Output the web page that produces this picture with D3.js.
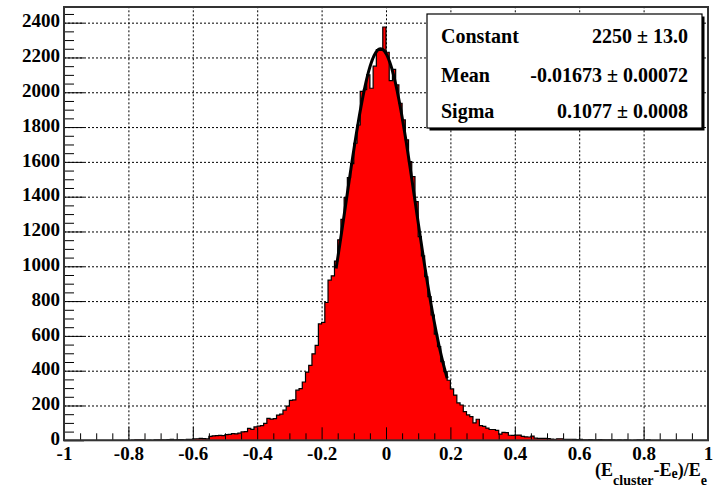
<!DOCTYPE html>
<html>
<head>
<meta charset="utf-8">
<title>Cluster energy resolution</title>
<style>
  body { margin: 0; background: #fff; }
  svg text { font-family: "Liberation Serif", "Times New Roman", serif; font-weight: bold; fill: #000; }
  .axis path { display: none; }
  .axis line { stroke: #000; stroke-width: 1; }
  .grid path { display: none; }
  .grid line { stroke: #000; stroke-width: 1; stroke-dasharray: 2,2; }
</style>
</head>
<body>
<div id="chart"></div>
<script src="https://d3js.org/d3.v7.min.js"></script>
<script>

// histogram: 200 bins from -1 to 1
var binLow = -1, binHigh = 1;
var binCounts = [
  0, 0, 0, 0, 0, 0, 0, 0, 0, 0,
  0, 0, 0, 0, 0, 0, 0, 0, 0, 0,
  0, 1, 3, 3, 2, 0, 1, 0, 2, 3,
  3, 2, 4, 5, 3, 4, 4, 3, 5, 6,
  8, 9, 11, 10, 8, 22, 26, 27, 28, 27,
  33, 34, 38, 37, 41, 48, 50, 68, 63, 77,
  81, 84, 97, 126, 122, 124, 145, 150, 173, 196,
  230, 232, 288, 297, 335, 392, 430, 497, 545, 669,
  678, 792, 920, 945, 1030, 1152, 1270, 1395, 1510, 1590,
  1707, 1812, 2005, 2015, 2100, 2023, 2150, 2245, 2240, 2375,
  2230, 2067, 2132, 2042, 1937, 1841, 1726, 1601, 1515, 1372,
  1170, 1060, 940, 826, 720, 610, 538, 452, 395, 345,
  295, 260, 215, 203, 165, 146, 136, 100, 121, 84,
  80, 70, 62, 62, 57, 36, 45, 44, 29, 28,
  30, 30, 22, 20, 19, 24, 12, 11, 11, 11,
  10, 7, 6, 9, 9, 5, 5, 6, 5, 4,
  5, 3, 3, 4, 2, 3, 4, 3, 2, 3,
  2, 1, 2, 1, 2, 1, 0, 1, 2, 1,
  0, 2, 0, 0, 0, 0, 0, 0, 0, 0,
  0, 0, 0, 0, 0, 0, 0, 0, 0, 0
];

var xTicks = [-1, -0.8, -0.6, -0.4, -0.2, 0, 0.2, 0.4, 0.6, 0.8, 1];
var xTickLabels = ["-1", "-0.8", "-0.6", "-0.4", "-0.2", "0", "0.2", "0.4", "0.6", "0.8", "1"];
var yTicks = [0, 200, 400, 600, 800, 1000, 1200, 1400, 1600, 1800, 2000, 2200, 2400];
var yMax = 2490;

// gaussian fit
var fitConstant = 2250, fitMean = -0.01673, fitSigma = 0.1077;
var fitRange = [-0.155, 0.19];
var statNames = ["Constant", "Mean", "Sigma"];
var statValues = ["2250 \u00b1 13.0", "-0.01673 \u00b1 0.00072", "0.1077 \u00b1 0.0008"];

var margin = {top: 7, right: 8, bottom: 47.7, left: 64},
  width = 716 - margin.left - margin.right,
  height = 488 - margin.top - margin.bottom;

var svg = d3.select("#chart")
  .append("svg")
  .attr("width", 716)
  .attr("height", 488);

var g = svg.append("g")
  .attr("transform", "translate(" + margin.left + "," + margin.top + ")");

var x = d3.scaleLinear().domain([binLow, binHigh]).range([0, width]);
var y = d3.scaleLinear().domain([0, yMax]).range([height, 0]);

// grid
g.append("g")
  .attr("class", "grid")
  .attr("transform", "translate(0," + height + ")")
  .call(d3.axisBottom(x).tickValues(xTicks.slice(1, -1)).tickSize(-height).tickFormat(""));

g.append("g")
  .attr("class", "grid")
  .call(d3.axisLeft(y).tickValues(yTicks.slice(1)).tickSize(-width).tickFormat(""));

// histogram
var nBins = binCounts.length;
var binWidth = (binHigh - binLow) / nBins;
var steps = binCounts.map(function(c, i) { return [binLow + i * binWidth, c]; });
steps.push([binHigh, binCounts[nBins - 1]]);

g.append("path")
  .datum(steps)
  .attr("fill", "#ff0000")
  .attr("d", d3.area()
    .curve(d3.curveStepAfter)
    .x(function(d) { return x(d[0]); })
    .y0(y(0))
    .y1(function(d) { return y(d[1]); }));

g.append("path")
  .datum(steps)
  .attr("fill", "none")
  .attr("stroke", "#000")
  .attr("stroke-width", 1.2)
  .attr("d", d3.line()
    .curve(d3.curveStepAfter)
    .x(function(d) { return x(d[0]); })
    .y(function(d) { return y(d[1]); }));

// fit curve
var fitPts = d3.range(0, 121).map(function(k) {
  var v = fitRange[0] + k * (fitRange[1] - fitRange[0]) / 120;
  return [v, fitConstant * Math.exp(-0.5 * Math.pow((v - fitMean) / fitSigma, 2))];
});

g.append("path")
  .datum(fitPts)
  .attr("fill", "none")
  .attr("stroke", "#000")
  .attr("stroke-width", 3)
  .attr("d", d3.line()
    .x(function(d) { return x(d[0]); })
    .y(function(d) { return y(d[1]); }));

// axes, ticks pointing inwards
var xMinor = d3.range(-1, 1.0001, 0.05).filter(function(v) { return Math.abs(Math.round(v * 5) - v * 5) > 1e-6; });
g.append("g")
  .attr("class", "axis")
  .attr("transform", "translate(0," + height + ")")
  .call(d3.axisBottom(x).tickValues(xMinor).tickSizeInner(-7).tickSizeOuter(0).tickFormat(""));

g.append("g")
  .attr("class", "axis")
  .attr("transform", "translate(0," + height + ")")
  .call(d3.axisBottom(x).tickValues(xTicks).tickSizeInner(-13).tickSizeOuter(0).tickPadding(6)
    .tickFormat(function(d, i) { return xTickLabels[i]; }))
  .selectAll("text")
  .style("font-size", "19px");

var yMinor = d3.range(50, yMax, 50).filter(function(v) { return v % 200 != 0; });
g.append("g")
  .attr("class", "axis")
  .call(d3.axisLeft(y).tickValues(yMinor).tickSizeInner(-10).tickSizeOuter(0).tickFormat(""));

g.append("g")
  .attr("class", "axis")
  .call(d3.axisLeft(y).tickValues(yTicks).tickSizeInner(-20).tickSizeOuter(0).tickPadding(4)
    .tickFormat(d3.format("d")))
  .selectAll("text")
  .attr("dy", "0.22em")
  .style("font-size", "19px");

// frame
g.append("rect")
  .attr("width", width)
  .attr("height", height)
  .attr("fill", "none")
  .attr("stroke", "#333")
  .attr("stroke-width", 2);

// axis title
var title = svg.append("text")
  .attr("x", 707)
  .attr("y", 476)
  .attr("text-anchor", "end")
  .style("font-size", "18px");
title.append("tspan").text("(E");
title.append("tspan").attr("dy", 9).style("font-size", "14px").text("cluster");
title.append("tspan").attr("dy", -9).text("-E");
title.append("tspan").attr("dy", 2).style("font-size", "14px").text("e");
title.append("tspan").attr("dy", -2).text(")/E");
title.append("tspan").attr("dy", 9).style("font-size", "14px").text("e");

// stats box
var box = {x: 427, y: 14, w: 275, h: 114};
svg.append("rect")
  .attr("x", box.x + 2.5).attr("y", box.y + 2.5)
  .attr("width", box.w).attr("height", box.h)
  .attr("fill", "#000");
svg.append("rect")
  .attr("x", box.x).attr("y", box.y)
  .attr("width", box.w).attr("height", box.h)
  .attr("fill", "#fff")
  .attr("stroke", "#000")
  .attr("stroke-width", 1.2);

var rowY = [42.5, 81.5, 117.5];
svg.selectAll(".statName")
  .data(statNames)
  .enter().append("text")
  .attr("class", "statName")
  .attr("x", box.x + 14)
  .attr("y", function(d, i) { return rowY[i]; })
  .style("font-size", "20px")
  .text(function(d) { return d; });

svg.selectAll(".statValue")
  .data(statValues)
  .enter().append("text")
  .attr("class", "statValue")
  .attr("x", box.x + box.w - 14)
  .attr("y", function(d, i) { return rowY[i]; })
  .attr("text-anchor", "end")
  .style("font-size", "20px")
  .text(function(d) { return d; });

</script>
</body>
</html>
